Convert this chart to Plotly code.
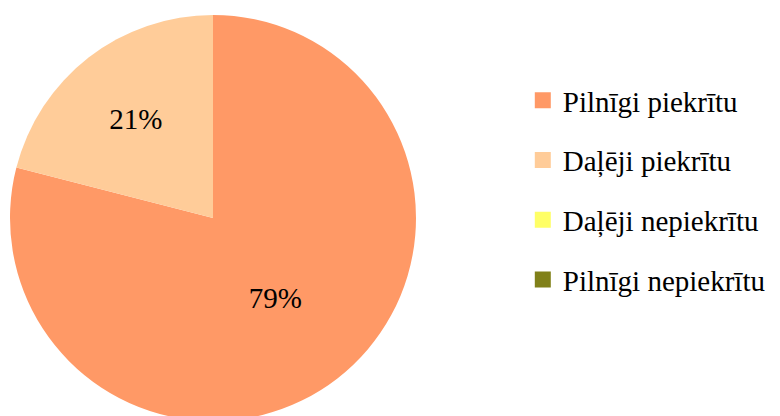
import plotly.graph_objects as go

labels = ["Pilnīgi piekrītu", "Daļēji piekrītu", "Daļēji nepiekrītu", "Pilnīgi nepiekrītu"]
values = [79, 21, 0, 0]
colors = ["#FF9966", "#FFCC99", "#FFFF66", "#808019"]

serif = "Liberation Serif, Times New Roman, serif"

fig = go.Figure()

fig.add_trace(go.Pie(
    labels=labels, values=values, sort=False, direction="clockwise", rotation=0,
    marker=dict(colors=colors, line=dict(width=0)),
    textinfo="percent", textposition="inside", insidetextorientation="horizontal",
    texttemplate="%{percent:.0%}",
    textfont=dict(family=serif, size=29, color="black"),
    domain=dict(x=[2 / 780, 408 / 780], y=[3 / 416, 409 / 416]),
    showlegend=False, hoverinfo="label+percent",
))

# legend entries (separate groups so the spacing can match)
for i, (lab, col) in enumerate(zip(labels, colors)):
    fig.add_trace(go.Scatter(
        x=[None], y=[None], mode="markers", name=lab, legendgroup=f"g{i}",
        marker=dict(symbol="square", size=17, color=col),
    ))

fig.update_layout(
    width=780, height=416,
    margin=dict(l=0, r=0, t=0, b=0),
    paper_bgcolor="white", plot_bgcolor="white",
    xaxis=dict(visible=False), yaxis=dict(visible=False),
    font=dict(family=serif, color="black"),
    legend=dict(
        x=0.660, y=0.5625, xanchor="left", yanchor="middle",
        font=dict(family=serif, size=29, color="black"),
        tracegroupgap=19, itemwidth=30,
    ),
)

fig.write_html("out.html")
